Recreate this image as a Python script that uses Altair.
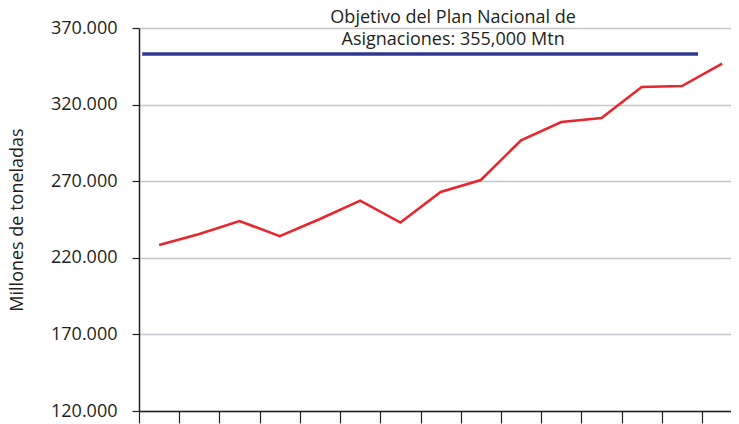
import altair as alt
import pandas as pd

# ---- data ----
values = [228400, 235500, 244000, 234100, 245300, 257300, 243000, 263000,
          270800, 296700, 308600, 311300, 331500, 332100, 346700]
period_index = list(range(15))
target_value = 353000
target_start = 0.08
target_end = 13.9
note_lines = ["Objetivo del Plan Nacional de", "Asignaciones: 355,000 Mtn"]
note_x = 7.81
note_y = 373500
y_ticks = [120000, 170000, 220000, 270000, 320000, 370000]
x_ticks = list(range(15))

FONT = "Open Sans"
INK = "#231f20"

line_df = pd.DataFrame({"x": [i + 0.5 for i in period_index], "y": values})
target_df = pd.DataFrame({"x": [target_start], "x2": [target_end], "y": [target_value]})
note_df = pd.DataFrame({"x": [note_x], "y": [note_y], "t": ["\n".join(note_lines)]})

x_scale = alt.Scale(domain=[0, 14.72], nice=False, zero=False)
y_scale = alt.Scale(domain=[120000, 370000], nice=False, zero=False)

x_axis = alt.Axis(values=x_ticks, labels=False, title=None, grid=False,
                  tickSize=12, tickColor=INK, tickWidth=1.2,
                  domainColor=INK, domainWidth=1.5)
y_axis = alt.Axis(values=y_ticks, title="Millones de toneladas",
                  labelExpr="replace(format(datum.value, ','), ',', '.')",
                  labelFont=FONT, labelFontSize=18, labelColor=INK,
                  labelPadding=15, tickSize=7, tickColor=INK, tickWidth=1.2,
                  domainColor=INK, domainWidth=1.5,
                  grid=True, gridColor="#c5c6cc", gridWidth=1.3,
                  titleFont=FONT, titleFontSize=18, titleFontWeight="normal",
                  titleColor=INK, titleAngle=-90, titleAlign="center",
                  titleBaseline="middle", titleX=-121.5, titleY=191.5)


def xe(field="x"):
    return alt.X(f"{field}:Q", scale=x_scale, axis=x_axis)


def ye():
    return alt.Y("y:Q", scale=y_scale, axis=y_axis)


red = alt.Chart(line_df).mark_line(color="#e8262e", strokeWidth=2.6).encode(
    x=xe(), y=ye()
)

blue = alt.Chart(target_df).mark_rule(color="#2e3a8f", strokeWidth=3.5).encode(
    x=xe(), x2="x2:Q", y=ye()
)

note = alt.Chart(note_df).mark_text(
    lineBreak="\n", align="center", baseline="alphabetic",
    font=FONT, fontSize=18, lineHeight=22, color=INK
).encode(x=xe(), y=ye(), text="t:N")

chart = alt.layer(red, blue, note).properties(
    width=592, height=383,
    autosize=alt.AutoSizeParams(type="none"),
    padding={"left": 131, "top": 20, "right": 0, "bottom": 13},
    background="white",
).configure_view(stroke=None)

chart.save("out.html", embed_options={"renderer": "svg", "actions": False})
